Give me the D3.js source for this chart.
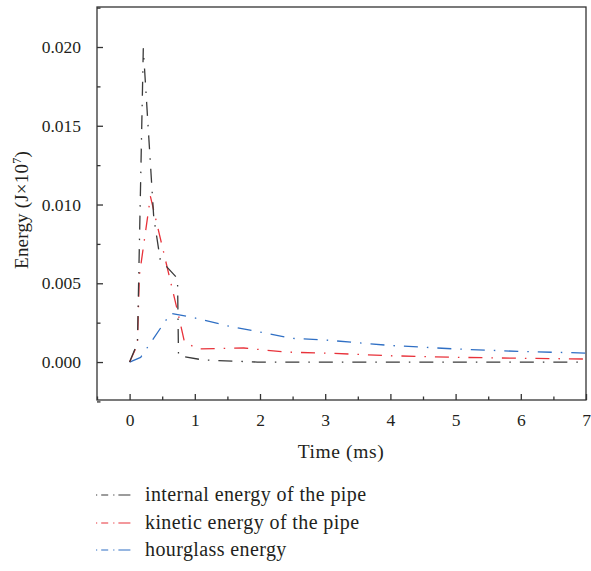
<!DOCTYPE html>
<html>
<head>
<meta charset="utf-8">
<script src="https://cdn.jsdelivr.net/npm/d3@7"></script>
<style>
  html, body { margin: 0; padding: 0; background: #fff; }
  svg { display: block; }
  svg text { font-family: "Liberation Serif", "DejaVu Serif", serif !important; fill: #231f20; }
</style>
</head>
<body>
<svg id="chart" width="591" height="571"></svg>
<script>
// ---- data ----
const internalT = [0, 0.12, 0.21, 0.37, 0.47, 0.735, 0.75, 1.13, 1.96, 3, 4, 5, 6, 7];
const internalE = [0, 0.0012, 0.0199, 0.0092, 0.0065, 0.0053, 0.0004, 0.00013, 0.0, 0.0, 0.0, 0.0, 0.0, 0.0];

const kineticT = [0, 0.12, 0.15, 0.32, 0.72, 0.84, 1.04, 1.75, 2.4, 3, 4, 5, 6, 7];
const kineticE = [0, 0.0011, 0.0055, 0.0105, 0.0035, 0.0013, 0.00083, 0.00089, 0.00063, 0.00057, 0.00040, 0.00030, 0.00024, 0.00019];

const hourglassT = [0, 0.17, 0.63, 1, 1.5, 2, 2.5, 3, 4, 5, 6, 7];
const hourglassE = [0, 0.0003, 0.0031, 0.0028, 0.0023, 0.0019, 0.0015, 0.0014, 0.00105, 0.00083, 0.00067, 0.00057];

const seriesNames = ["internal energy of the pipe", "kinetic energy of the pipe", "hourglass energy"];
const seriesColors = ["#3a3a3a", "#e8323a", "#2f6fc4"];

const xTicks = [0, 1, 2, 3, 4, 5, 6, 7];
const xMinorTicks = [-0.5, 0.5, 1.5, 2.5, 3.5, 4.5, 5.5, 6.5];
const yTicks = [0, 0.005, 0.010, 0.015, 0.020];
const yMinorTicks = [-0.0025, 0.0025, 0.0075, 0.0125, 0.0175, 0.0225];

// ---- layout ----
const svg = d3.select("#chart");
const L = 97, R = 586, T = 7, B = 400;
const x = d3.scaleLinear().domain([-0.5, 7]).range([L, R]);
const y = d3.scaleLinear().domain([-0.00241, 0.02254]).range([B, T]);

const axisColor = "#333";
const FS = 17.5;

// frame
svg.append("rect")
  .attr("x", L).attr("y", T).attr("width", R - L).attr("height", B - T)
  .attr("fill", "none").attr("stroke", axisColor).attr("stroke-width", 1.3);

// y axis (ticks inside)
const yAxis = svg.append("g").attr("transform", `translate(${L},0)`)
  .call(d3.axisLeft(y).tickValues(yTicks).tickFormat(d3.format(".3f")).tickSizeInner(-6).tickSizeOuter(0).tickPadding(16));
yAxis.attr("font-family", null).attr("font-size", null);
yAxis.select(".domain").remove();
yAxis.selectAll("line").attr("stroke", axisColor).attr("stroke-width", 1.3);
yAxis.selectAll("text").style("font-size", FS + "px").attr("fill", "#231f20");

const yMinor = svg.append("g").attr("transform", `translate(${L},0)`)
  .call(d3.axisLeft(y).tickValues(yMinorTicks).tickFormat("").tickSizeInner(-3.5).tickSizeOuter(0));
yMinor.select(".domain").remove();
yMinor.selectAll("line").attr("stroke", axisColor).attr("stroke-width", 1.3);

// x axis
const xAxis = svg.append("g").attr("transform", `translate(0,${B})`)
  .call(d3.axisBottom(x).tickValues(xTicks).tickFormat(d3.format("d")).tickSizeInner(-6).tickSizeOuter(0).tickPadding(14));
xAxis.attr("font-family", null).attr("font-size", null);
xAxis.select(".domain").remove();
xAxis.selectAll("line").attr("stroke", axisColor).attr("stroke-width", 1.3);
xAxis.selectAll("text").style("font-size", FS + "px").attr("fill", "#231f20");

const xMinor = svg.append("g").attr("transform", `translate(0,${B})`)
  .call(d3.axisBottom(x).tickValues(xMinorTicks).tickFormat("").tickSizeInner(-3.5).tickSizeOuter(0));
xMinor.select(".domain").remove();
xMinor.selectAll("line").attr("stroke", axisColor).attr("stroke-width", 1.3);

// axis titles
svg.append("text")
  .attr("x", 341).attr("y", 458)
  .attr("text-anchor", "middle").style("font-size", "19.5px")
  .style("letter-spacing", "0.6px")
  .text("Time (ms)");

const yl = svg.append("text")
  .attr("transform", "translate(28,210) rotate(-90)")
  .attr("text-anchor", "middle").style("font-size", "19px")
  .style("letter-spacing", "0.2px");
yl.append("tspan").text("Energy (J×10");
yl.append("tspan").attr("dy", -7).style("font-size", "12px").text("7");
yl.append("tspan").attr("dy", 7).text(")");

// ---- lines ----
const dash = "14,9,1.5,9";
const allSeries = [
  { t: internalT, e: internalE },
  { t: kineticT, e: kineticE },
  { t: hourglassT, e: hourglassE }
];
const line = d3.line().x(d => x(d[0])).y(d => y(d[1]));

svg.append("clipPath").attr("id", "clip")
  .append("rect").attr("x", L).attr("y", T).attr("width", R - L).attr("height", B - T);

[2, 1, 0].forEach(i => {
  const s = allSeries[i];
  const pts = s.t.map((t, k) => [t, s.e[k]]);
  svg.append("path")
    .attr("clip-path", "url(#clip)")
    .attr("d", line(pts))
    .attr("fill", "none")
    .attr("stroke", seriesColors[i])
    .attr("stroke-width", 1.3)
    .attr("stroke-dasharray", dash)
    .attr("stroke-linejoin", "round");
});

// ---- legend ----
const legY = [495, 523, 550];
seriesNames.forEach((name, i) => {
  const g = svg.append("g");
  g.append("line")
    .attr("x1", 96).attr("x2", 131)
    .attr("y1", legY[i]).attr("y2", legY[i])
    .attr("stroke", seriesColors[i]).attr("stroke-width", 1.2)
    .attr("stroke-dasharray", "1.2,4,7,5,1.2,4,12");
  g.append("text")
    .attr("x", 145).attr("y", legY[i] + 6)
    .style("font-size", "20px")
    .style("letter-spacing", "0.4px")
    .text(name);
});
</script>
</body>
</html>
